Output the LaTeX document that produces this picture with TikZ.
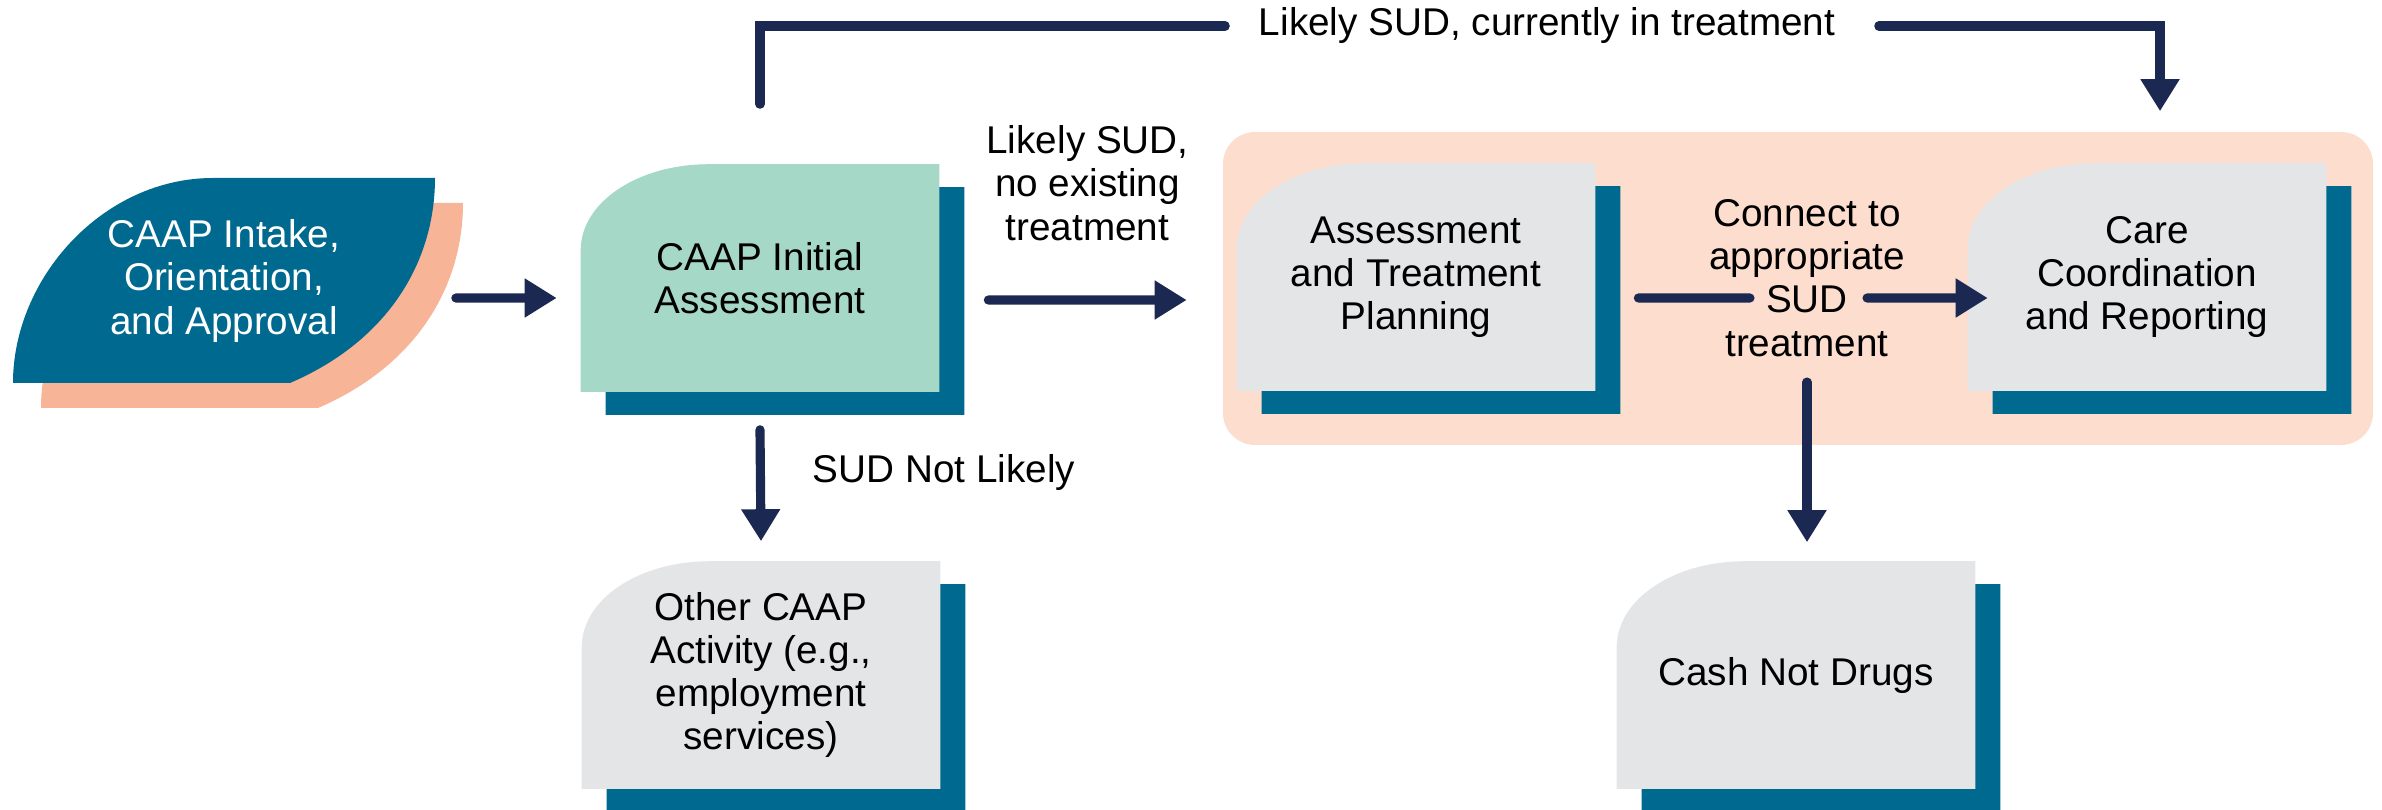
\documentclass[tikz,border=0pt]{standalone}
\usepackage{fontspec}
\setmainfont{Liberation Sans}
\usetikzlibrary{arrows.meta,backgrounds,calc}

\definecolor{deepteal}{RGB}{0,105,143}
\definecolor{mint}{RGB}{165,216,198}
\definecolor{paleslate}{RGB}{228,229,231}
\definecolor{navy}{RGB}{27,40,82}
\definecolor{salmon}{RGB}{247,180,150}
\definecolor{blush}{RGB}{252,221,206}

\tikzset{
  stage/.style={minimum width=3.57cm, minimum height=2.26cm, inner sep=0pt, align=center},
  lbl/.style={inner sep=0pt, align=center},
  flowline/.style={draw=navy, line width=2.6pt, line cap=round},
  flow/.style={flowline, -{Triangle[length=0.32cm,width=0.37cm]}},
}

\begin{document}
\begin{tikzpicture}[x=0.01cm, y=-0.01cm, font=\fontsize{11}{12.3}\selectfont]
    \useasboundingbox (0,0) rectangle (2382,810);

    \node[lbl, text=white, minimum width=4.22cm, minimum height=2.05cm] (intake) at (224,281)
          {CAAP Intake,\\Orientation,\\and Approval};
    \node[stage] (initial) at (760,278) {CAAP Initial\\Assessment};
    \node[stage] (atp) at (1416,277) {Assessment\\and Treatment\\Planning};
    \node[stage] (care) at (2147,277) {Care\\Coordination\\and Reporting};
    \node[stage] (other) at (761,675) {Other CAAP\\Activity (e.g.,\\employment\\services)};
    \node[stage] (cash) at (1796,675) {Cash Not Drugs};

    \node[lbl] (toplbl) at (1547,26) {Likely SUD, currently in treatment};
    \node[lbl] (connlbl) at (1807,278) {Connect to\\appropriate\\SUD\\treatment};

    \begin{scope}[on background layer]
      % band behind the treatment part
      \fill[blush, rounded corners=0.32cm] (1223,132) rectangle (2373,445);
      % leaf and its shadow
      \foreach \dx/\dy/\col in {28/25/salmon, 0/0/deepteal}
        \fill[\col, shift={(\dx,\dy)}] (13,383) .. controls (13,278) and (103,178) .. (213,178)
              -- (435,178) .. controls (435,260) and (390,340) .. (290,383) -- cycle;
      % boxes with shadow
      \foreach \nd/\col in {initial/mint, atp/paleslate, care/paleslate, other/paleslate, cash/paleslate}
        \foreach \dx/\dy/\fc in {25/23/deepteal, 0/0/\col}
          \fill[\fc] ([shift={(\dx,\dy)}]\nd.south west) -- ([shift={(\dx,\dy)}]\nd.south east)
                -- ([shift={(\dx,\dy)}]\nd.north east)
                -- ([shift={(\dx,\dy)},xshift=1.28cm]\nd.north west)
                .. controls ([shift={(\dx,\dy)},xshift=0.57cm]\nd.north west)
                and ([shift={(\dx,\dy)},yshift=-0.38cm]\nd.north west)
                .. ([shift={(\dx,\dy)},yshift=-0.86cm]\nd.north west) -- cycle;
    \end{scope}

    \draw[flow] ([xshift=0.2cm,yshift=-0.17cm]intake.east)
          -- ([xshift=-0.24cm,yshift=-0.2cm]initial.west);
    \draw[flow] ([xshift=0.49cm,yshift=-0.22cm]initial.east)
          -- node[lbl, above=0.55cm] (nolbl) {Likely SUD,\\no existing\\treatment}
          ([xshift=-0.5cm,yshift=-0.23cm]atp.west);
    \draw[flow] ([yshift=-0.38cm]initial.south)
          -- node[lbl, pos=0.38, right=0.48cm] (notlbl) {SUD Not Likely}
          ([yshift=0.2cm]other.north);
    \draw[flowline] ([xshift=0.43cm,yshift=-0.21cm]atp.east)
          -- ([xshift=-0.57cm,yshift=-0.2cm]connlbl.center);
    \draw[flow] ([xshift=0.6cm,yshift=-0.2cm]connlbl.center)
          -- ([xshift=0.2cm,yshift=-0.21cm]care.west);
    \draw[flow] ([yshift=-1.04cm]connlbl.center) -- ($(cash.north -| connlbl.center)+(0,-19)$);
    \draw[flowline] ([yshift=0.6cm]initial.north) |- ([xshift=-0.33cm]toplbl.west);
    \draw[flow] ([xshift=0.43cm]toplbl.east) -| ([xshift=0.13cm,yshift=0.52cm]care.north);
\end{tikzpicture}
\end{document}
